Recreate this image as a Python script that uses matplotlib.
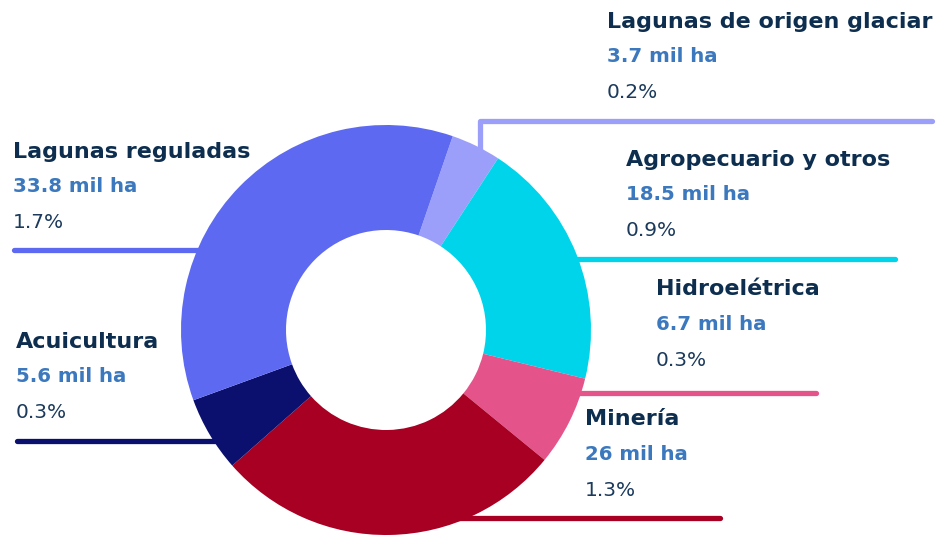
import matplotlib.pyplot as plt

# superficie por uso (miles de ha)
usos = ['Lagunas de origen glaciar', 'Agropecuario y otros', 'Hidroelétrica',
        'Minería', 'Acuicultura', 'Lagunas reguladas']
miles_ha = [3.7, 18.5, 6.7, 26, 5.6, 33.8]
valores_txt = ['3.7', '18.5', '6.7', '26', '5.6', '33.8']
porcentajes = ['0.2%', '0.9%', '0.3%', '1.3%', '0.3%', '1.7%']
colores = ['#9c9ffa', '#00d4eb', '#e4548b', '#a80022', '#0b0f6e', '#5d69f1']

W, H = 950, 539
fig = plt.figure(figsize=(9.5, 5.39), dpi=100)
ax = fig.add_axes([0, 0, 1, 1])

def py(y):
    # coordenada en pixeles desde arriba
    return H - y

cx, cy, R = 386, 330, 205
ax.pie(miles_ha, colors=colores, startangle=71, counterclock=False,
       center=(cx, py(cy)), radius=R, frame=True,
       wedgeprops=dict(width=R - 100, linewidth=0))
ax.set_xlim(0, W)
ax.set_ylim(0, H)
ax.set_aspect('equal')
ax.axis('off')

# lineas guia y etiquetas: (x texto, y titulo, linea)
etiquetas = [
    (607, 22, [(480, 160), (480, 121), (932, 121)]),
    (626, 160, [(560, 259), (895, 259)]),
    (656, 289, [(560, 393), (816, 393)]),
    (585, 419, [(450, 518), (720, 518)]),
    (16, 342, [(17, 441), (240, 441)]),
    (13, 152, [(14, 250), (220, 250)]),
]

for i, (tx, ty, linea) in enumerate(etiquetas):
    xs = [p[0] for p in linea]
    ys = [py(p[1]) for p in linea]
    ax.plot(xs, ys, color=colores[i], lw=3.8, solid_capstyle='round',
            solid_joinstyle='round', zorder=0)
    ax.text(tx, py(ty), usos[i], fontsize=16, fontweight='bold',
            color='#0d2e4f', va='center', ha='left')
    ax.text(tx, py(ty + 35), valores_txt[i] + ' mil ha', fontsize=14.2,
            fontweight='semibold', color='#3b78bd', va='center', ha='left')
    ax.text(tx, py(ty + 71), porcentajes[i], fontsize=14.5,
            color='#1b3a5c', va='center', ha='left')

fig.savefig('out.png', dpi=100)
